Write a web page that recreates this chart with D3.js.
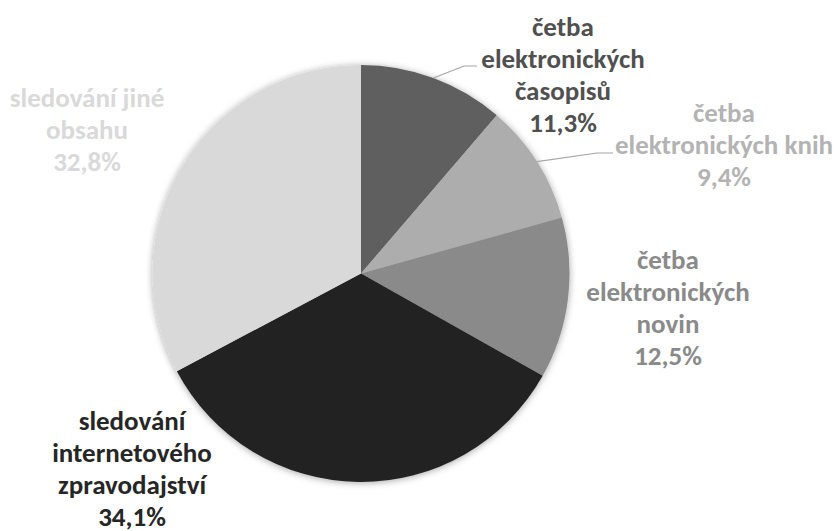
<!DOCTYPE html>
<html>
<head>
<meta charset="utf-8">
<script src="https://cdn.jsdelivr.net/npm/d3@7"></script>
<style>
  html, body { margin: 0; padding: 0; background: #ffffff; }
  svg { display: block; }
  text { font-family: Carlito, Calibri, Lato, "Open Sans", sans-serif; font-weight: 700; }
</style>
</head>
<body>
<svg id="chart" width="837" height="531"></svg>
<script>
// Share of online activities (percent), clockwise from 12 o'clock
const categories = [
  ["četba", "elektronických", "časopisů"],
  ["četba", "elektronických knih"],
  ["četba", "elektronických", "novin"],
  ["sledování", "internetového", "zpravodajství"],
  ["sledování jiné", "obsahu"]
];
const values = [11.3, 9.4, 12.5, 34.1, 32.8];

const sliceColors = ["#5f5f5f", "#adadad", "#8a8a8a", "#222222", "#d9d9d9"];
const labelColors = ["#505050", "#b3b3b3", "#8a8a8a", "#262626", "#d9d9d9"];

// label block placement: x centre, baseline of first line, optional leader elbow/end
const labelLayout = [
  { x: 563, y: 36, leader: [[464, 66], [477, 66]] },
  { x: 724, y: 122, leader: [[597, 153], [613, 153]] },
  { x: 668, y: 269 },
  { x: 132, y: 430 },
  { x: 87, y: 107 }
];

const cx = 361, cy = 273.5, R = 208.5;
const fontSize = 27, lineH = 32;

const svg = d3.select("#chart");

const defs = svg.append("defs");
const shadow = defs.append("filter").attr("id", "pieShadow")
  .attr("x", "-10%").attr("y", "-10%").attr("width", "120%").attr("height", "120%");
shadow.append("feDropShadow")
  .attr("dx", 0).attr("dy", 1).attr("stdDeviation", 3.5)
  .attr("flood-color", "#000").attr("flood-opacity", 0.35);

const pie = d3.pie().sort(null).value(d => d)(values);
const arc = d3.arc().innerRadius(0).outerRadius(R);

const g = svg.append("g").attr("transform", `translate(${cx},${cy})`);
const slices = g.append("g").attr("filter", "url(#pieShadow)");
slices.selectAll("path")
  .data(pie)
  .join("path")
  .attr("d", arc)
  .attr("fill", (d, i) => sliceColors[i]);

// leader lines from slice mid-angle on the rim to the label
const fmt = v => d3.format(".1f")(v).replace(".", ",") + "%";
pie.forEach((d, i) => {
  const L = labelLayout[i];
  if (!L.leader) return;
  const a = (d.startAngle + d.endAngle) / 2;
  const p0 = [cx + R * Math.sin(a), cy - R * Math.cos(a)];
  svg.append("polyline")
    .attr("points", [p0, ...L.leader].map(p => p.join(",")).join(" "))
    .attr("fill", "none")
    .attr("stroke", "#a6a6a6")
    .attr("stroke-width", 1.2);
});

// data labels
pie.forEach((d, i) => {
  const L = labelLayout[i];
  const lines = categories[i].concat([fmt(values[i])]);
  const t = svg.append("text")
    .attr("text-anchor", "middle")
    .attr("font-size", fontSize)
    .attr("fill", labelColors[i]);
  lines.forEach((s, k) => {
    t.append("tspan").attr("x", L.x).attr("y", L.y + k * lineH).text(s);
  });
});
</script>
</body>
</html>
